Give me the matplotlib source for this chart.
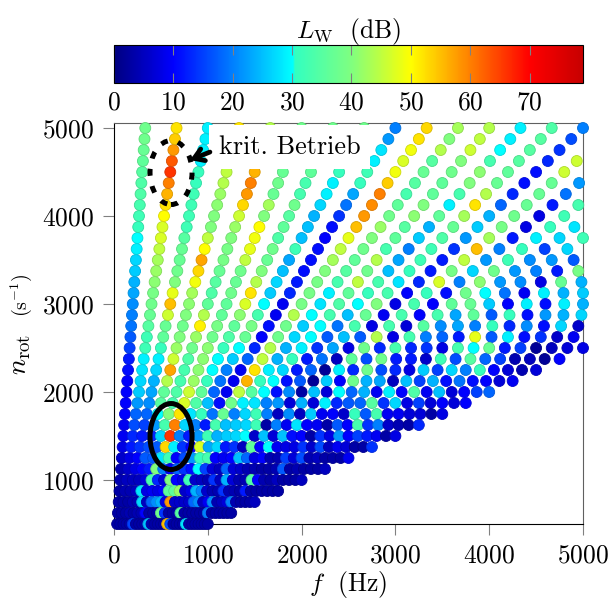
import matplotlib
matplotlib.use("Agg")
import matplotlib.pyplot as plt
import numpy as np
from matplotlib.colors import LinearSegmentedColormap, Normalize
from matplotlib.cm import ScalarMappable
from matplotlib.patches import Ellipse

plt.rcParams["font.family"] = ["cmr10"]
plt.rcParams["mathtext.fontset"] = "cm"
plt.rcParams["axes.formatter.use_mathtext"] = True
plt.rcParams["axes.unicode_minus"] = False

# rotational speed rows, lowest first
rpm = [500, 625, 750, 875, 1000, 1125, 1250, 1375, 1500, 1625, 1750, 1875, 2000,
       2125, 2250, 2375, 2500, 2625, 2750, 2875, 3000, 3125, 3250, 3375, 3500,
       3625, 3750, 3875, 4000, 4125, 4250, 4375, 4500, 4625, 4750, 4875, 5000]

# frequency of each order at 5000 rpm
f_at_5000 = [333.3, 666.7, 1000, 1333.3, 1666.7, 2000, 2333.3, 2666.7, 3000, 3333.3,
             3666.7, 4000, 4333.3, 4666.7, 5000, 5333.3, 5666.7, 6000, 6333.3, 6666.7,
             7000, 7333.3, 7666.7, 8000, 8333.3, 8666.7, 9000, 9333.3, 9666.7, 10000]

# levels in dB for each order, from 500 rpm upwards
lw_01 = [3, 3, 3, 3, 4, 4, 6, 8, 9, 9, 10, 10, 10, 10, 11, 12, 15, 17, 19, 20, 21, 23, 24, 26, 27, 29, 30, 31, 32, 33, 34, 34, 35, 36, 37, 38, 38]
lw_02 = [3, 3, 3, 4, 5, 6, 8, 12, 13, 16, 18, 22, 26, 27, 28, 29, 32, 32, 35, 37, 38, 39, 41, 42, 43, 45, 47, 47, 50, 52, 56, 60, 66, 63, 58, 54, 52]
lw_03 = [3, 3, 3, 4, 5, 8, 10, 14, 12, 15, 18, 21, 23, 24, 27, 29, 31, 36, 37, 46, 55, 48, 40, 38, 37, 37, 35, 32, 32, 32, 32, 31, 31, 29, 29, 29, 29]
lw_04 = [3, 4, 4, 5, 5, 10, 17, 16, 13, 22, 30, 35, 36, 44, 57, 46, 42, 40, 38, 40, 41, 43, 49, 53, 57, 50, 45, 40, 40, 41, 42, 44, 45, 45, 46, 48, 52]
lw_05 = [3, 3, 4, 28, 7, 12, 17, 17, 27, 33, 40, 33, 34, 33, 33, 34, 38, 42, 51, 44, 36, 34, 35, 37, 39, 39, 40, 42, 46, 53, 58, 60, 56, 52, 50, 47, 44]
lw_06 = [15, 4, 27, 8, 33, 40, 28, 53, 66, 60, 52, 47, 46, 42, 41, 41, 41, 38, 39, 36, 36, 38, 37, 38, 45, 48, 49, 50, 40, 43, 37, 38, 37, 38, 38, 38, 38]
lw_07 = [3, 4, 5, 9, 13, 20, 32, 29, 20, 27, 28, 34, 36, 31, 30, 30, 31, 34, 36, 41, 47, 52, 44, 40, 37, 38, 34, 36, 35, 38, 33, 33, 36, 37, 37, 37, 38]
lw_08 = [3, 10, 18, 8, 7, 9, 10, 14, 12, 20, 31, 25, 18, 19, 20, 26, 30, 37, 39, 33, 30, 26, 27, 25, 23, 32, 25, 25, 24, 27, 29, 29, 31, 33, 35, 36, 38]
lw_09 = [3, 3, 21, 10, 40, 18, 16, 10, 22, 12, 19, 11, 9, 9, 9, 18, 13, 10, 11, 9, 9, 13, 12, 11, 11, 11, 10, 11, 14, 19, 23, 31, 32, 29, 28, 22, 20]
lw_10 = [3, 3, 24, 36, 10, 14, 22, 47, 32, 33, 37, 38, 45, 56, 52, 45, 44, 38, 38, 44, 39, 39, 39, 40, 43, 45, 48, 55, 58, 59, 60, 54, 49, 47, 49, 52, 53]
lw_11 = [25, 3, 8, 36, 8, 11, 31, 23, 24, 25, 20, 29, 35, 31, 29, 24, 24, 27, 26, 30, 28, 29, 33, 35, 36, 38, 40, 42, 38, 36, 33, 35, 37, 35, 44, 40, 43]
lw_12 = [4, 38, 58, 42, 32, 30, 33, 27, 26, 26, 27, 28, 30, 30, 27, 31, 29, 30, 30, 33, 34, 36, 45, 38, 44, 33, 36, 35, 41, 40, 36, 36, 38, 40, 46, 45, 44]
lw_13 = [3, 14, 6, 6, 6, 15, 10, 12, 27, 27, 32, 20, 11, 11, 12, 12, 14, 17, 19, 25, 30, 31, 33, 25, 23, 20, 26, 24, 36, 29, 33, 40, 41, 33, 30, 29, 29]
lw_14 = [3, 3, 6, 8, 5, 7, 9, 14, 30, 32, 20, 22, 21, 17, 18, 19, 23, 25, 33, 37, 40, 33, 28, 31, 32, 32, 34, 37, 43, 52, 44, 37, 36, 35, 35, 35, 34]
lw_15 = [3, 3, 6, 24, 4, 5, 10, 5, 6, 3, 5, 7, 3, 2, 2, 5, 8, 17, 8, 9, 8, 10, 13, 12, 12, 14, 22, 26, 24, 18, 13, 11, 11, 13, 14, 16, 20]
lw_16 = [3, 3, 6, 20, 14, 18, 25, 36, 25, 20, 21, 24, 25, 26, 29, 36, 38, 44, 33, 33, 33, 31, 47, 39, 45, 55, 43, 39, 38, 37, 37, 37, 46, 46]
lw_17 = [55, 35, 18, 6, 5, 7, 18, 10, 7, 9, 5, 7, 7, 10, 13, 16, 13, 8, 7, 10, 10, 11, 20, 27, 22, 20, 12, 8, 8, 12, 19, 22]
lw_18 = [16, 3, 21, 4, 24, 6, 8, 30, 25, 28, 26, 29, 30, 38, 38, 38, 33, 33, 35, 33, 36, 38, 41, 38, 32, 31, 29, 31, 32, 33]
lw_19 = [3, 3, 5, 4, 7, 4, 10, 9, 11, 10, 9, 13, 18, 24, 16, 12, 13, 20, 21, 23, 37, 30, 22, 22, 21, 15, 27, 28]
lw_20 = [3, 3, 9, 14, 4, 4, 4, 8, 10, 9, 10, 17, 24, 23, 13, 12, 14, 18, 23, 36, 26, 19, 21, 20, 22, 27, 32]
lw_21 = [3, 3, 21, 4, 4, 3, 4, 8, 3, 3, 6, 18, 9, 5, 8, 6, 8, 12, 20, 17, 10, 9, 8, 12, 17]
lw_22 = [3, 3, 4, 4, 34, 3, 15, 14, 14, 17, 31, 35, 29, 25, 26, 32, 33, 48, 31, 31, 29, 29, 37, 39]
lw_23 = [28, 3, 5, 3, 10, 4, 7, 6, 8, 10, 17, 14, 10, 15, 15, 16, 30, 17, 13, 11, 11, 24, 24]
lw_24 = [3, 20, 7, 12, 4, 17, 16, 16, 22, 33, 33, 27, 34, 24, 27, 35, 37, 29, 21, 22, 29, 26]
lw_25 = [3, 3, 20, 3, 3, 3, 4, 5, 10, 14, 9, 8, 9, 11, 20, 18, 12, 11, 11, 24, 24]
lw_26 = [3, 3, 4, 3, 5, 4, 5, 9, 15, 20, 9, 15, 25, 19, 31, 15, 15, 14, 27, 27]
lw_27 = [3, 3, 3, 3, 3, 3, 3, 7, 12, 6, 7, 7, 7, 11, 10, 4, 2, 6, 6]
lw_28 = [3, 3, 3, 3, 3, 3, 3, 3, 9, 4, 7, 10, 10, 10, 7, 5, 5, 9]
lw_29 = [3, 3, 3, 3, 3, 3, 3, 3, 3, 3, 3, 7, 15, 7, 4, 2, 7]
lw_30 = [3, 3, 5, 3, 5, 5, 9, 14, 8, 13, 8, 10, 18, 9, 7, 10, 8]

levels = [lw_01, lw_02, lw_03, lw_04, lw_05, lw_06, lw_07, lw_08, lw_09, lw_10,
          lw_11, lw_12, lw_13, lw_14, lw_15, lw_16, lw_17, lw_18, lw_19, lw_20,
          lw_21, lw_22, lw_23, lw_24, lw_25, lw_26, lw_27, lw_28, lw_29, lw_30]

x_ticks = [0, 1000, 2000, 3000, 4000, 5000]
y_ticks = [1000, 2000, 3000, 4000, 5000]
bar_ticks = [0, 10, 20, 30, 40, 50, 60, 70]

GRAY = "#808080"
FONT = 18.4

cmap = LinearSegmentedColormap.from_list("lw_jet", [
    (0 / 79, (0, 0, 0.5)), (10 / 79, (0, 0, 1)), (30 / 79, (0, 1, 1)),
    (30.6 / 79, (0.2, 1, 0.75)), (40 / 79, (0.5, 1, 0.5)), (50 / 79, (1, 1, 0)),
    (60 / 79, (1, 0.5, 0)), (70 / 79, (1, 0, 0)), (1, (0.78, 0, 0))], N=512)
norm = Normalize(0, 79)

fig = plt.figure(figsize=(6.1, 5.99), dpi=100)
ax = fig.add_axes([114 / 610, 1 - 524 / 599, 469 / 610, 401 / 599])
cax = fig.add_axes([114 / 610, 1 - 82.5 / 599, 469 / 610, 38 / 599])

for f_top, lw_row in zip(f_at_5000, levels):
    speeds = [n for n in rpm if f_top * n / 5000 <= 5000.5]
    freqs = [f_top * n / 5000 for n in speeds]
    colors = cmap(norm(np.array(list(zip(speeds, lw_row, strict=True)))[:, 1]))
    edges = colors.copy()
    edges[:, :3] *= 0.85
    ax.scatter(freqs, speeds, s=62, c=colors, edgecolors=edges, linewidths=0.6,
               clip_on=False, zorder=3)

ax.set_xlim(0, 5000)
ax.set_ylim(500, 5057)
ax.set_xticks(x_ticks)
ax.set_yticks(y_ticks)
ax.tick_params(direction="out", length=8, width=0.8, color=GRAY, labelsize=FONT, pad=6)
for side in ["top", "right"]:
    ax.spines[side].set_color("#606060")
ax.set_xlabel(r"$f\ $ (Hz)", fontsize=FONT, labelpad=1)
fig.text(21 / 610, 1 - 375 / 599, r"$n_{\mathrm{rot}}$", fontsize=FONT + 1, rotation=90,
         ha="center", va="bottom")
fig.text(21 / 610, 1 - 317 / 599, r"$(\mathrm{s}^{-1})$", fontsize=FONT - 4, rotation=90,
         ha="center", va="bottom")

ax.add_patch(Ellipse((608, 4494), 448, 727, fill=False, ec="black", lw=3.6,
                     ls=(0, (1.4, 2.1)), zorder=6, clip_on=False))
ax.add_patch(Ellipse((608, 1494), 448, 750, fill=False, ec="black", lw=3.6,
                     zorder=6, clip_on=False))
ax.text(1876, 4784, "krit. Betrieb", fontsize=FONT + 0.5, ha="center", va="center", zorder=5,
        bbox=dict(facecolor="white", edgecolor="none", pad=7))
ax.annotate("", xy=(810, 4636), xytext=(1023, 4727), zorder=7,
            arrowprops=dict(arrowstyle="->,head_length=0.7,head_width=0.45", lw=3.4,
                            color="black", shrinkA=0, shrinkB=0))

bar = fig.colorbar(ScalarMappable(norm=norm, cmap=cmap), cax=cax, orientation="horizontal")
bar.set_ticks(bar_ticks)
bar.ax.tick_params(which="major", direction="in", top=True, bottom=True, length=7.5,
                   width=0.8, color=GRAY, labelsize=FONT, pad=6)
bar.ax.minorticks_off()
bar.outline.set_linewidth(0.8)
bar.ax.set_title(r"$L_{\mathrm{W}}\ $ (dB)", fontsize=FONT, pad=5)

fig.savefig("out.png", dpi=100)
